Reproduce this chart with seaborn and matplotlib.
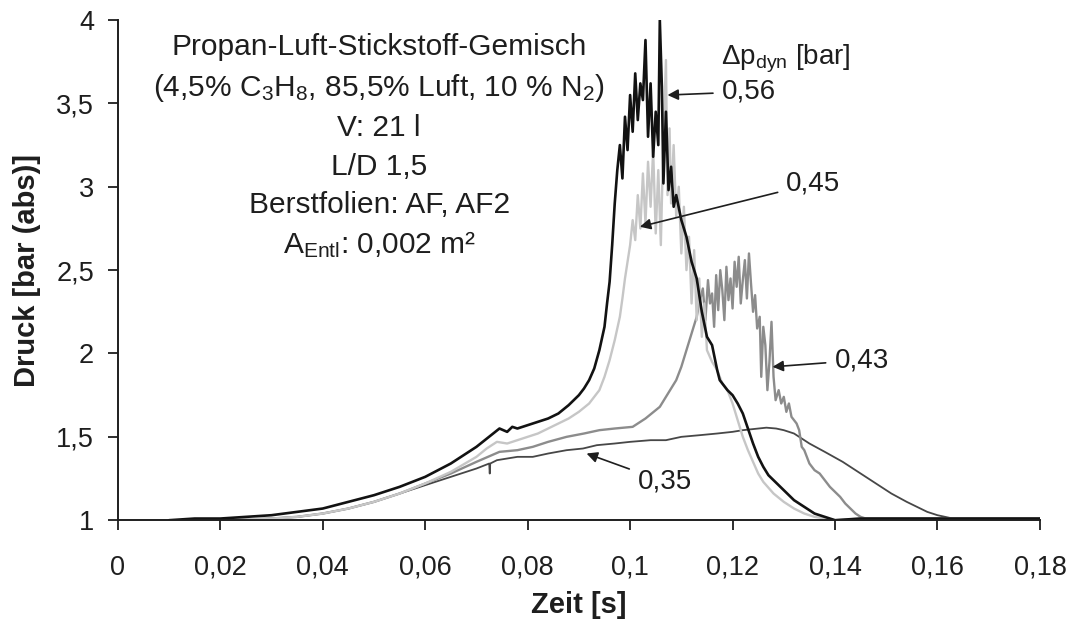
import matplotlib
matplotlib.use("Agg")
import matplotlib.pyplot as plt
import seaborn as sns
import pandas as pd

# --- data ---
t_056 = [0.010, 0.015, 0.020, 0.025, 0.030, 0.035, 0.040, 0.045, 0.050, 0.055,
         0.060, 0.065, 0.070, 0.0745, 0.076, 0.077, 0.078, 0.080, 0.082, 0.084,
         0.086, 0.088, 0.089, 0.090, 0.091, 0.092, 0.093, 0.094, 0.095, 0.0955,
         0.096, 0.0965, 0.097, 0.0975, 0.098, 0.0985, 0.099, 0.0995, 0.100, 0.1005,
         0.101, 0.1015, 0.102, 0.1025, 0.103, 0.1035, 0.104, 0.1045, 0.105, 0.1055,
         0.1058, 0.1062, 0.1065, 0.107, 0.1075, 0.108, 0.1085, 0.109, 0.110, 0.111,
         0.112, 0.113, 0.114, 0.115, 0.116, 0.117, 0.1175, 0.119, 0.120, 0.121,
         0.122, 0.123, 0.124, 0.125, 0.126, 0.127, 0.128, 0.129, 0.130, 0.131,
         0.132, 0.133, 0.134, 0.135, 0.136, 0.137, 0.138, 0.140, 0.145, 0.150,
         0.155, 0.160, 0.165, 0.170, 0.175, 0.180]
p_056 = [1.00, 1.01, 1.01, 1.02, 1.03, 1.05, 1.07, 1.11, 1.15, 1.20,
         1.26, 1.34, 1.44, 1.55, 1.53, 1.56, 1.55, 1.57, 1.59, 1.61,
         1.64, 1.69, 1.72, 1.75, 1.79, 1.84, 1.91, 2.02, 2.16, 2.30,
         2.43, 2.65, 2.90, 3.10, 3.25, 3.05, 3.42, 3.22, 3.55, 3.33,
         3.68, 3.40, 3.62, 3.52, 3.88, 3.30, 3.62, 3.18, 3.45, 3.25,
         4.00, 3.60, 3.02, 3.45, 2.98, 3.12, 2.88, 2.95, 2.80, 2.70,
         2.55, 2.45, 2.25, 2.10, 2.05, 1.90, 1.84, 1.78, 1.75, 1.70,
         1.64, 1.55, 1.46, 1.38, 1.32, 1.27, 1.24, 1.21, 1.18, 1.15,
         1.12, 1.10, 1.08, 1.06, 1.04, 1.03, 1.02, 1.00, 1.01, 1.01,
         1.01, 1.01, 1.01, 1.01, 1.01, 1.01]

t_045 = [0.010, 0.020, 0.030, 0.035, 0.040, 0.045, 0.050, 0.055, 0.060, 0.065,
         0.070, 0.072, 0.074, 0.076, 0.078, 0.080, 0.082, 0.084, 0.086, 0.088,
         0.090, 0.092, 0.093, 0.094, 0.095, 0.096, 0.097, 0.098, 0.0985, 0.099,
         0.0995, 0.100, 0.1005, 0.101, 0.1015, 0.102, 0.1025, 0.103, 0.1035, 0.104,
         0.1045, 0.105, 0.1055, 0.106, 0.1065, 0.107, 0.1073, 0.1077, 0.108, 0.1085,
         0.109, 0.1095, 0.110, 0.1105, 0.111, 0.1115, 0.112, 0.1125, 0.113, 0.1135,
         0.114, 0.1145, 0.115, 0.116, 0.117, 0.118, 0.119, 0.120, 0.121, 0.122,
         0.123, 0.124, 0.125, 0.126, 0.128, 0.130, 0.132, 0.134, 0.136, 0.138,
         0.140, 0.145, 0.150, 0.155, 0.160, 0.165, 0.170, 0.175, 0.180]
p_045 = [1.00, 1.00, 1.01, 1.02, 1.04, 1.07, 1.11, 1.16, 1.22, 1.29,
         1.38, 1.43, 1.47, 1.46, 1.48, 1.50, 1.52, 1.55, 1.58, 1.61,
         1.65, 1.70, 1.74, 1.78, 1.86, 1.96, 2.08, 2.22, 2.33, 2.45,
         2.55, 2.65, 2.80, 2.68, 2.95, 2.75, 3.08, 2.78, 3.15, 2.88,
         3.22, 2.72, 3.10, 2.65, 3.30, 3.76, 2.95, 3.35, 2.90, 3.25,
         2.82, 3.00, 2.60, 2.88, 2.50, 2.70, 2.30, 2.62, 2.20, 2.45,
         2.10, 2.30, 2.02, 1.95, 1.90, 1.82, 1.78, 1.70, 1.60, 1.50,
         1.42, 1.35, 1.28, 1.23, 1.16, 1.11, 1.07, 1.04, 1.02, 1.01,
         1.00, 1.01, 1.01, 1.01, 1.01, 1.01, 1.01, 1.01, 1.01]

t_043 = [0.010, 0.020, 0.030, 0.035, 0.040, 0.045, 0.050, 0.055, 0.060, 0.065,
         0.070, 0.0745, 0.078, 0.081, 0.084, 0.0876, 0.091, 0.094, 0.097, 0.1005,
         0.103, 0.1058, 0.107, 0.108, 0.109, 0.110, 0.111, 0.112, 0.113, 0.1135,
         0.1142, 0.1147, 0.1152, 0.1156, 0.116, 0.1164, 0.1168, 0.1172, 0.1176, 0.118,
         0.1184, 0.1188, 0.1192, 0.1196, 0.120, 0.1204, 0.1208, 0.1212, 0.1216, 0.122,
         0.1224, 0.1228, 0.1232, 0.1236, 0.124, 0.1244, 0.1248, 0.1253, 0.1256, 0.126,
         0.1264, 0.1268, 0.1272, 0.1276, 0.128, 0.1284, 0.129, 0.1295, 0.130, 0.1305,
         0.131, 0.1315, 0.132, 0.1325, 0.133, 0.1335, 0.134, 0.135, 0.136, 0.137,
         0.138, 0.139, 0.140, 0.141, 0.142, 0.143, 0.144, 0.145, 0.146, 0.150,
         0.155, 0.160, 0.165, 0.170, 0.175, 0.180]
p_043 = [1.00, 1.00, 1.01, 1.02, 1.04, 1.07, 1.11, 1.16, 1.22, 1.28,
         1.35, 1.41, 1.42, 1.44, 1.47, 1.50, 1.52, 1.54, 1.55, 1.56,
         1.61, 1.68, 1.74, 1.79, 1.84, 1.92, 2.02, 2.12, 2.22, 2.30,
         2.39, 2.20, 2.44, 2.30, 2.36, 2.16, 2.47, 2.26, 2.50, 2.38,
         2.20, 2.52, 2.32, 2.45, 2.27, 2.55, 2.40, 2.58, 2.30, 2.44,
         2.56, 2.33, 2.60, 2.42, 2.25, 2.35, 2.15, 2.22, 1.86, 2.16,
         2.05, 1.78, 1.95, 2.19, 1.86, 1.72, 1.78, 1.70, 1.74, 1.65,
         1.70, 1.62, 1.60, 1.58, 1.54, 1.44, 1.42, 1.34, 1.30, 1.28,
         1.24, 1.20, 1.17, 1.14, 1.10, 1.07, 1.04, 1.02, 1.01, 1.01,
         1.01, 1.01, 1.01, 1.01, 1.01, 1.01]

t_035 = [0.010, 0.020, 0.030, 0.035, 0.040, 0.045, 0.050, 0.055, 0.060, 0.065,
         0.070, 0.0725, 0.0726, 0.0727, 0.074, 0.076, 0.078, 0.081, 0.084, 0.0876,
         0.0908, 0.0935, 0.097, 0.100, 0.104, 0.107, 0.110, 0.1136, 0.117, 0.120,
         0.122, 0.1266, 0.1285, 0.130, 0.132, 0.135, 0.138, 0.1415, 0.144, 0.146,
         0.148, 0.151, 0.154, 0.156, 0.158, 0.160, 0.163, 0.170, 0.175, 0.180]
p_035 = [1.00, 1.00, 1.01, 1.02, 1.04, 1.07, 1.11, 1.16, 1.21, 1.26,
         1.31, 1.34, 1.28, 1.34, 1.36, 1.37, 1.38, 1.38, 1.40, 1.42,
         1.43, 1.45, 1.46, 1.47, 1.48, 1.48, 1.50, 1.51, 1.52, 1.53,
         1.54, 1.555, 1.55, 1.54, 1.52, 1.46, 1.41, 1.35, 1.30, 1.26,
         1.22, 1.16, 1.11, 1.08, 1.05, 1.03, 1.01, 1.01, 1.01, 1.01]

x_ticks = [0, 0.02, 0.04, 0.06, 0.08, 0.1, 0.12, 0.14, 0.16, 0.18]
x_labels = ["0", "0,02", "0,04", "0,06", "0,08", "0,1", "0,12", "0,14", "0,16", "0,18"]
y_ticks = [1, 1.5, 2, 2.5, 3, 3.5, 4]
y_labels = ["1", "1,5", "2", "2,5", "3", "3,5", "4"]

info_lines = ["Propan-Luft-Stickstoff-Gemisch",
              "(4,5% C$_3$H$_8$, 85,5% Luft, 10 % N$_2$)",
              "V: 21 l",
              "L/D 1,5",
              "Berstfolien: AF, AF2",
              "A$_{Entl}$: 0,002 m²"]

sns.set_style("ticks")
plt.rcParams["font.family"] = ["Liberation Sans", "DejaVu Sans"]
plt.rcParams["mathtext.fontset"] = "custom"
plt.rcParams["mathtext.rm"] = "Liberation Sans"
plt.rcParams["mathtext.it"] = "Liberation Sans"
plt.rcParams["mathtext.default"] = "regular"

INK = "#1e1e1e"

fig = plt.figure(figsize=(10.71, 6.26), dpi=100)
ax = fig.add_axes([0.110, 0.169, 0.861, 0.799])

series = [
    (t_035, p_035, "#474747", 1.3),
    (t_043, p_043, "#8c8c8c", 1.7),
    (t_045, p_045, "#c6c6c6", 1.7),
    (t_056, p_056, "#121212", 1.9),
]
for t, p, col, lw in series:
    df = pd.DataFrame({"t": t, "p": p})
    sns.lineplot(data=df, x="t", y="p", ax=ax, color=col, lw=lw,
                 estimator=None, sort=False)

ax.set_xlim(0, 0.18)
ax.set_ylim(1, 4)
ax.set_xticks(x_ticks)
ax.set_xticklabels(x_labels)
ax.set_yticks(y_ticks)
ax.set_yticklabels(y_labels)
ax.tick_params(axis="both", labelsize=19.5, length=7, width=1.3, color=INK, labelcolor=INK)
ax.tick_params(axis="x", pad=18)
ax.tick_params(axis="y", pad=10)
for s in ["top", "right"]:
    ax.spines[s].set_visible(False)
for s in ["left", "bottom"]:
    ax.spines[s].set_linewidth(1.4)
    ax.spines[s].set_color(INK)

ax.set_xlabel("Zeit [s]", fontsize=21, fontweight="bold", color=INK)
ax.set_ylabel("Druck [bar (abs)]", fontsize=21, fontweight="bold", color=INK)
ax.xaxis.set_label_coords(0.5, -0.142)
ax.yaxis.set_label_coords(-0.083, 0.5)

# info block
y_info = [3.84, 3.59, 3.35, 3.12, 2.89, 2.655]
for txt, yy in zip(info_lines, y_info):
    ax.text(0.051, yy, txt, ha="center", va="center", fontsize=21.5, color=INK)

ax.text(0.1178, 3.77, r"$\Delta$p$_{dyn}$ [bar]", ha="left", va="center",
        fontsize=20, color=INK)

arrow = dict(arrowstyle="-|>", color=INK, lw=1.2, mutation_scale=16,
             shrinkA=4, shrinkB=0)
ax.annotate("0,56", xy=(0.1073, 3.55), xytext=(0.1179, 3.57), fontsize=20,
            va="center", ha="left", arrowprops=arrow, color=INK)
ax.annotate("0,45", xy=(0.1019, 2.76), xytext=(0.1305, 3.02), fontsize=20,
            va="center", ha="left", arrowprops=arrow, color=INK)
ax.annotate("0,43", xy=(0.1278, 1.92), xytext=(0.1399, 1.96), fontsize=20,
            va="center", ha="left", arrowprops=arrow, color=INK)
ax.annotate("0,35", xy=(0.0915, 1.40), xytext=(0.1015, 1.23), fontsize=20,
            va="center", ha="left", arrowprops=arrow, color=INK)

fig.savefig("out.png", dpi=100)
